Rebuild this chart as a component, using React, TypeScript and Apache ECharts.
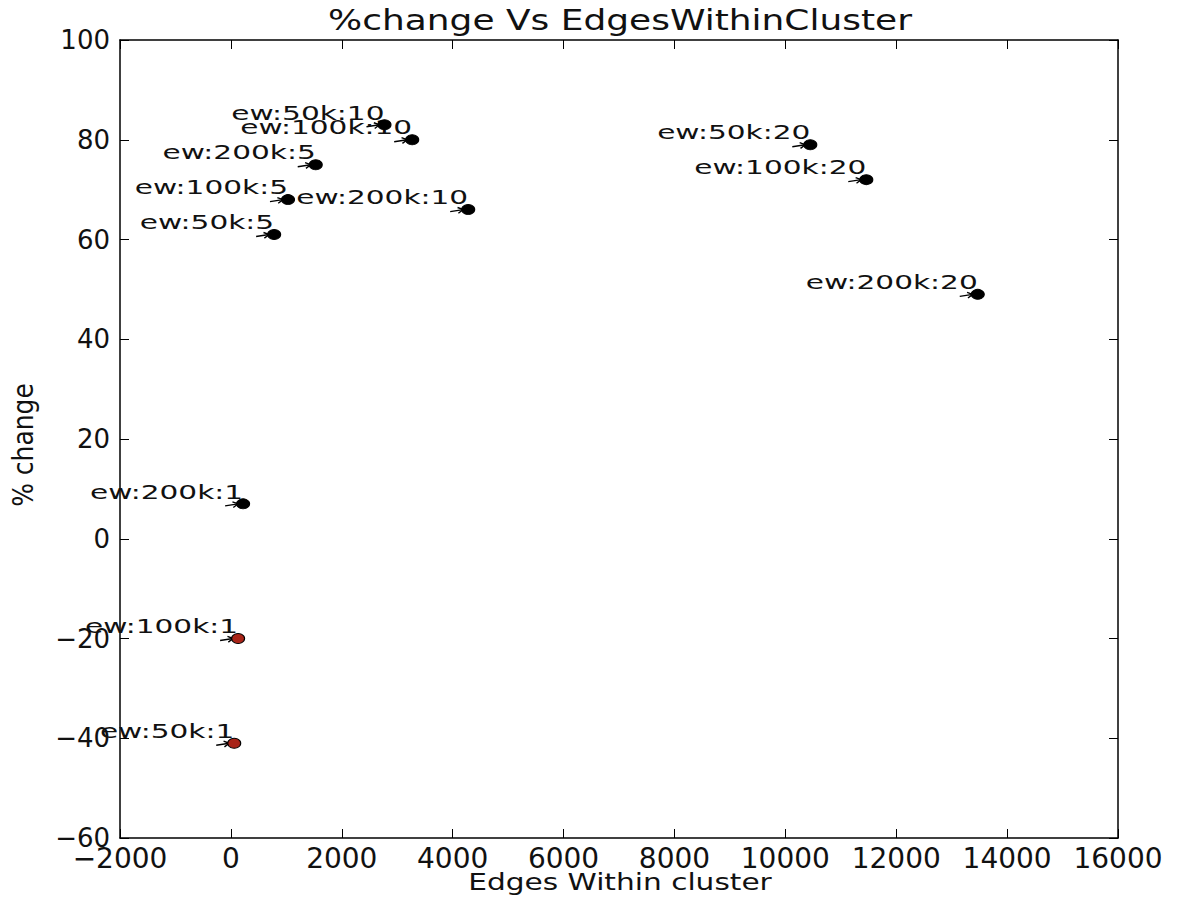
import React, { useEffect, useRef } from "react";
import * as echarts from "echarts";

// Runs: edge-weight / k setting for each experiment
const runLabels = [
  "ew:50k:1", "ew:100k:1", "ew:200k:1",
  "ew:50k:5", "ew:100k:5", "ew:200k:5",
  "ew:50k:10", "ew:100k:10", "ew:200k:10",
  "ew:50k:20", "ew:100k:20", "ew:200k:20",
];
// Edges within cluster (x)
const edgesWithin = [60, 130, 220, 780, 1030, 1530, 2770, 3270, 4280, 10450, 11460, 13470];
// % change (y)
const pctChange = [-41, -20, 7, 61, 68, 75, 83, 80, 66, 79, 72, 49];

const xTicks = { min: -2000, max: 16000, interval: 2000 };
const yTicks = { min: -60, max: 100, interval: 20 };

const FONT = '"DejaVu Sans", sans-serif';
const INK = "#111";

const fmtMinus = (v: number) => (v < 0 ? "\u2212" + Math.abs(v) : String(v));

export default function App() {
  const ref = useRef<HTMLDivElement>(null);

  useEffect(() => {
    if (!ref.current) return;
    const chart = echarts.init(ref.current, null, { renderer: "svg" });

    const frame = { show: true, onZero: false, lineStyle: { color: "#000", width: 1.5 } };
    const tick = { show: true, inside: true, length: 9, lineStyle: { color: "#000", width: 1 } };

    const xBase = {
      type: "value" as const,
      ...xTicks,
      axisLine: frame,
      axisTick: tick,
      splitLine: { show: false },
    };
    const yBase = {
      type: "value" as const,
      ...yTicks,
      axisLine: frame,
      axisTick: tick,
      splitLine: { show: false },
    };

    const points = edgesWithin.map((x, i) => [x, pctChange[i]]);

    chart.setOption({
      animation: false,
      backgroundColor: "#fff",
      grid: { left: 120, right: 62, top: 40, bottom: 64, show: false },
      xAxis: [
        {
          ...xBase,
          position: "bottom",
          axisLabel: {
            show: true,
            interval: 0,
            hideOverlap: false,
            showMinLabel: true,
            showMaxLabel: true,
            margin: 6,
            color: INK,
            fontFamily: FONT,
            fontSize: 28,
            formatter: fmtMinus,
          },
        },
        { ...xBase, position: "top", axisLabel: { show: false } },
      ],
      yAxis: [
        {
          ...yBase,
          position: "left",
          axisLabel: {
            show: true,
            interval: 0,
            hideOverlap: false,
            showMinLabel: true,
            showMaxLabel: true,
            margin: 10,
            color: INK,
            fontFamily: FONT,
            fontSize: 26,
            formatter: fmtMinus,
          },
        },
        { ...yBase, position: "right", axisLabel: { show: false } },
      ],
      graphic: [
        {
          type: "text",
          x: 620,
          y: 20,
          scaleX: 1.24,
          style: {
            text: "%change Vs EdgesWithinCluster",
            font: `29px ${FONT}`,
            fill: INK,
            align: "center",
            verticalAlign: "middle",
            textAlign: "center",
            textVerticalAlign: "middle",
          },
        },
        {
          type: "text",
          x: 620,
          y: 882,
          scaleX: 1.26,
          style: {
            text: "Edges Within cluster",
            font: `23.5px ${FONT}`,
            fill: INK,
            align: "center",
            verticalAlign: "middle",
            textAlign: "center",
            textVerticalAlign: "middle",
          },
        },
        {
          type: "text",
          x: 24,
          y: 445,
          rotation: Math.PI / 2,
          scaleY: 1.1,
          style: {
            text: "% change",
            font: `25px ${FONT}`,
            fill: INK,
            align: "center",
            verticalAlign: "middle",
            textAlign: "center",
            textVerticalAlign: "middle",
          },
        },
      ],
      series: [
        {
          // annotation text with a short "->" arrow pointing at each run
          type: "custom",
          z: 2,
          clip: false,
          data: points,
          renderItem: (params: any, api: any) => {
            const p = api.coord([api.value(0), api.value(1)]);
            const px = p[0];
            const py = p[1];
            const sx = px - 18, sy = py + 2;
            const ex = px - 5, ey = py;
            const dx = ex - sx, dy = ey - sy;
            const len = Math.hypot(dx, dy);
            const ux = dx / len, uy = dy / len;
            const wing = (ang: number) => {
              const c = Math.cos(ang), s = Math.sin(ang);
              const bx = -ux, by = -uy;
              return [ex + 6 * (bx * c - by * s), ey + 6 * (bx * s + by * c)];
            };
            return {
              type: "group",
              children: [
                {
                  type: "text",
                  x: px,
                  y: py - 12,
                  scaleX: 1.48,
                  style: {
                    text: runLabels[params.dataIndex],
                    font: `20px ${FONT}`,
                    fill: INK,
                    align: "right",
                    verticalAlign: "middle",
                    textAlign: "right",
                    textVerticalAlign: "middle",
                  },
                },
                {
                  type: "line",
                  shape: { x1: sx, y1: sy, x2: ex, y2: ey },
                  style: { stroke: "#000", lineWidth: 1.4 },
                },
                {
                  type: "polyline",
                  shape: { points: [wing(0.5), [ex, ey], wing(-0.5)] },
                  style: { stroke: "#000", lineWidth: 1.4, fill: null },
                },
              ],
            };
          },
        },
        {
          type: "scatter",
          z: 3,
          data: points,
          symbol: "circle",
          symbolSize: [13, 10],
          itemStyle: {
            opacity: 1,
            color: (p: any) => (p.value[1] < 0 ? "#a82418" : "#000"),
            borderColor: "#000",
            borderWidth: 1,
          },
        },
      ],
    });

    return () => chart.dispose();
  }, []);

  return (
    <div
      ref={ref}
      style={{ position: "fixed", left: 0, top: 0, width: 1180, height: 902, background: "#fff" }}
    />
  );
}
